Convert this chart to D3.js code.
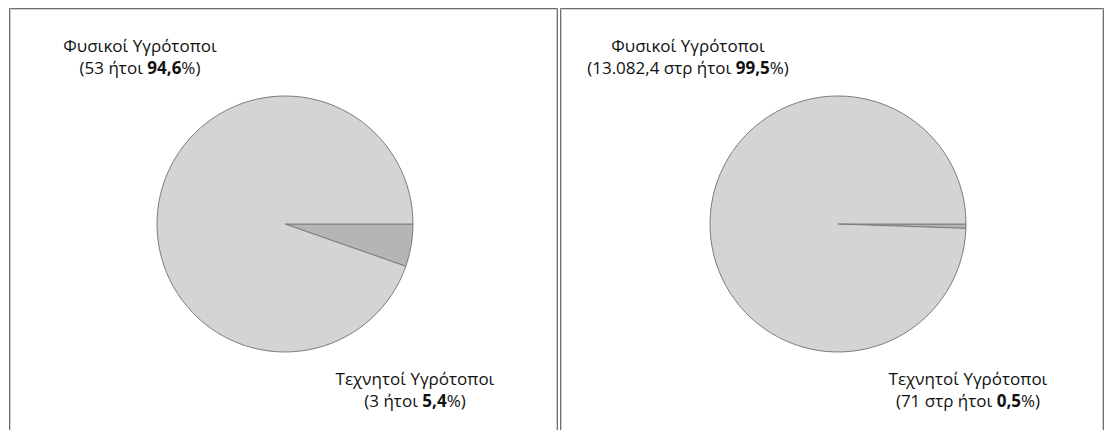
<!DOCTYPE html>
<html><head><meta charset="utf-8">
<script src="https://cdn.jsdelivr.net/npm/d3@7"></script>
<style>
html,body{margin:0;padding:0;background:#fff;}
svg{display:block;}
text{font-family:"Open Sans","Noto Sans",sans-serif;font-size:17px;fill:#111;}
</style></head>
<body><svg id="c" width="1105" height="430"></svg>
<script>
const categories = ["Φυσικοί Υγρότοποι", "Τεχνητοί Υγρότοποι"];
const countValues = [53, 3];
const areaValues = [13082.4, 71];
const units = ["", " στρ"];
const sliceColors = ["#d4d4d4", "#b5b5b5"];

const loc = d3.formatLocale({decimal: ",", thousands: ".", grouping: [3], currency: ["", "€"]});
const fmtVal = v => Number.isInteger(v) ? loc.format(",d")(v) : loc.format(",.1f")(v);
const fmtPct = loc.format(".1f");

const svg = d3.select("#c");

// panel frames
const panels = [{x0: 9, x1: 557}, {x0: 560, x1: 1103}];
panels.forEach(p => {
  const g = svg.append("g");
  g.append("path").attr("d", `M${p.x0+0.5},430 V${8.5} H${p.x1+0.5} V430`)
    .attr("fill", "none").attr("stroke", "#6e6e6e").attr("stroke-width", 1);
  g.append("path").attr("d", `M${p.x0+1.5},430 V${9.5} H${p.x1-0.5} V430`)
    .attr("fill", "none").attr("stroke", "#d0d0d0").attr("stroke-width", 1);
});

const datasets = [
  {values: countValues, unit: units[0], cx: 285, cy: 224},
  {values: areaValues, unit: units[1], cx: 838, cy: 224}
];

const r = 128;
const arc = d3.arc().innerRadius(0).outerRadius(r);

datasets.forEach((ds, di) => {
  const total = d3.sum(ds.values);
  const data = categories.map((c, i) => ({cat: c, value: ds.values[i], idx: i}));
  // small slice first, starting at 3 o'clock going clockwise
  const ordered = [data[1], data[0]];
  const pie = d3.pie().sort(null).value(d => d.value)
    .startAngle(Math.PI / 2).endAngle(Math.PI / 2 + 2 * Math.PI);
  const g = svg.append("g").attr("transform", `translate(${ds.cx},${ds.cy})`);
  g.selectAll("path.s").data(pie(ordered)).join("path")
    .attr("class", "s")
    .attr("d", arc)
    .attr("fill", d => sliceColors[d.data.idx])
    .attr("stroke", "#7c7c7c").attr("stroke-width", 1).attr("stroke-linejoin", "round");

  const labelPos = [
    {dx: di === 0 ? -145 : -150, y1: -172},
    {dx: 130, y1: 161}
  ];
  data.forEach((d, i) => {
    const lp = labelPos[i];
    const pct = d.value / total * 100;
    const t = g.append("text").attr("text-anchor", "middle");
    t.append("tspan").attr("x", lp.dx).attr("y", lp.y1).text(d.cat);
    const t2 = g.append("text").attr("text-anchor", "middle").attr("x", lp.dx).attr("y", lp.y1 + 22);
    t2.append("tspan").text("(" + fmtVal(d.value) + ds.unit + " ήτοι ");
    t2.append("tspan").attr("font-weight", "bold").text(fmtPct(pct));
    t2.append("tspan").text("%)");
  });
});
</script></body></html>
